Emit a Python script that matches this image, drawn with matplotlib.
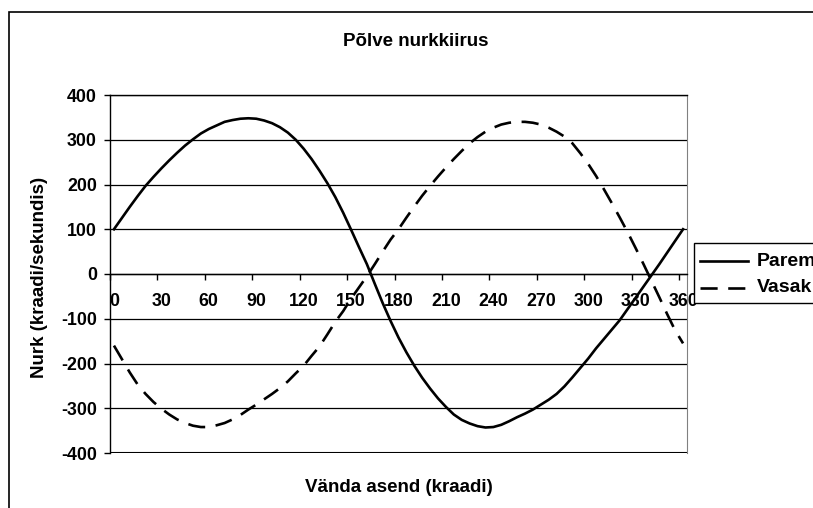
import matplotlib.pyplot as plt
from matplotlib.patches import Rectangle
from matplotlib.lines import Line2D

plt.rcParams['font.family'] = ['Liberation Sans', 'DejaVu Sans']
plt.rcParams['font.weight'] = 'bold'
plt.rcParams['axes.unicode_minus'] = False

# crank position in degrees, 5 degree steps
asend = list(range(0, 361, 5))

parem = [100, 125, 150, 174, 197, 217, 236, 254, 271, 287,
         301, 314, 324, 332, 340, 344, 347, 348, 347, 343,
         337, 328, 316, 300, 280, 257, 231, 203, 172, 137,
         99, 60, 22, -22, -65, -105, -142, -175, -205, -232,
         -256, -278, -297, -314, -326, -334, -340, -343, -342, -337,
         -329, -320, -312, -303, -292, -281, -268, -251, -231, -210,
         -189, -166, -145, -124, -103, -78, -53, -28, -3, 22,
         48, 74, 100]

vasak = [-160, -190, -220, -247, -268, -286, -301, -314, -325, -333,
         -339, -342, -342, -338, -333, -325, -315, -303, -292, -280,
         -268, -255, -240, -222, -205, -183, -162, -135, -107, -83,
         -55, -30, -5, 22, 50, 77, 100, 126, 151, 175,
         197, 218, 238, 257, 275, 292, 306, 318, 327, 334,
         338, 340, 340, 338, 334, 327, 318, 307, 292, 270,
         246, 219, 189, 158, 126, 93, 58, 22, -15, -52,
         -90, -126, -155]

x_labels = list(range(0, 361, 30))

fig = plt.figure(figsize=(8.13, 5.08), dpi=100)
W, H = 813, 508
ax = fig.add_axes([110 / W, 1 - 453 / H, 577 / W, 358 / H])

dash = (6.5, 4)
ax.plot(asend, parem, color='black', lw=1.9, zorder=3, label='Parem')
ax.plot(asend, vasak, color='black', lw=1.9, zorder=3, dashes=dash, label='Vasak')

ax.set_xlim(-2.5, 362.5)
ax.set_ylim(-400, 400)
ax.set_yticks(range(-400, 401, 100))
ax.set_xticks(x_labels)
ax.set_xticks([v - 2.5 for v in x_labels], minor=True)
ax.tick_params(axis='x', which='major', length=0, pad=14, labelsize=12.8)
ax.tick_params(axis='x', which='minor', length=4.5, width=1, direction='out')
ax.tick_params(axis='y', length=4.5, width=1, direction='out', pad=5, labelsize=12.8)

ax.yaxis.grid(True, color='black', lw=0.9)
ax.set_axisbelow(True)
ax.spines['bottom'].set_position(('data', 0))
ax.spines['bottom'].set_linewidth(1)
ax.spines['left'].set_linewidth(1)
ax.spines['top'].set_linewidth(1)
ax.spines['right'].set_color('#808080')
ax.axhline(-400, color='black', lw=1.5, zorder=1)

fig.text(416 / W, 1 - 41 / H, 'Põlve nurkkiirus', ha='center', va='center', fontsize=13.5)
fig.text(399 / W, 1 - 488 / H, 'Vända asend (kraadi)', ha='center', va='center', fontsize=13.5)
fig.text(40 / W, 1 - 277 / H, 'Nurk (kraadi/sekundis)', ha='center', va='center',
         rotation=90, fontsize=13.5)

# outer chart frame
fig.add_artist(Rectangle((9 / W, -0.05), 1.0, 1 - 12 / H + 0.05, transform=fig.transFigure,
                         fill=False, edgecolor='black', lw=1.2))

# legend box, runs off the right edge
fig.add_artist(Rectangle((694 / W, 1 - 303 / H), 0.2, 60 / H, transform=fig.transFigure,
                         facecolor='white', edgecolor='black', lw=1, zorder=5))
fig.add_artist(Line2D([700 / W, 748 / W], [1 - 261 / H] * 2, transform=fig.transFigure,
                      color='black', lw=1.9, zorder=6))
fig.add_artist(Line2D([700 / W, 748 / W], [1 - 288 / H] * 2, transform=fig.transFigure,
                      color='black', lw=1.9, dashes=dash, zorder=6))
fig.text(757 / W, 1 - 261 / H, 'Parem', va='center', fontsize=14, zorder=6)
fig.text(757 / W, 1 - 288 / H, 'Vasak', va='center', fontsize=14, zorder=6)

fig.savefig('out.png', dpi=100)
